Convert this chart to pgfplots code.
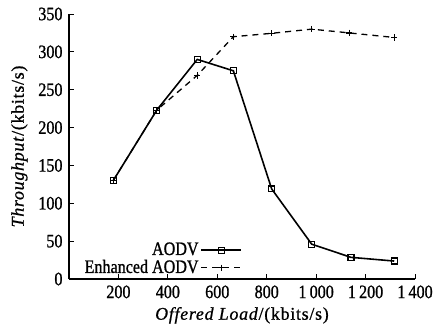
\documentclass[border=0pt]{standalone}
\usepackage{pgfplots}
\pgfplotsset{compat=1.18}
\usepackage{fontspec}
\setmainfont[FakeStretch=0.85, FakeBold=1]{Liberation Serif}
\newfontfamily\labelfont[LetterSpace=4, FakeBold=0.8]{Liberation Serif}
\begin{document}
\fontsize{19}{22}\selectfont
\begin{tikzpicture}
\begin{axis}[
  scale only axis,
  width=346bp, height=265bp,
  xmin=0, xmax=1400, ymin=0, ymax=350,
  axis lines=left,
  axis line style={line width=1.2pt, -},
  xtick={200,400,...,1400},
  ytick={0,50,...,350},
  tick align=inside,
  major tick length=5pt,
  tick style={line width=1pt, black},
  /pgf/number format/assume math mode=true,
  /pgf/number format/1000 sep={\,},
  ticklabel style={font=\fontsize{19}{22}\selectfont},
  xlabel={\textit{Offered Load}/(kbits/s)},
  ylabel={\textit{Throughput}/(kbits/s)},
  label style={font=\fontsize{18}{22}\labelfont},
  xlabel style={yshift=4pt},
  ylabel style={yshift=-2pt},
  legend style={at={(0.503,0.15)}, anchor=north east, draw=none, fill=none,
    font=\fontsize{19}{22}\selectfont, row sep=-2pt, inner sep=1pt},
  legend plot pos=right,
  legend cell align=right,
  legend image code/.code={\draw[mark repeat=2,mark phase=2,#1] plot coordinates {(0cm,0cm)(0.7cm,0cm)(1.4cm,0cm)};},
]
\addplot[black, line width=1.6pt, mark=square, mark size=3pt, mark options={solid, line width=1.2pt}]
coordinates {(179,130) (355,223) (519,290) (665,275) (820,119) (982,46) (1141,28.6) (1316,23.7)};
\addlegendentry{AODV}
\addplot[black, line width=1.3pt, dashed, dash pattern=on 6pt off 5pt, mark=+, mark size=3.2pt, mark options={solid, line width=1.2pt}]
coordinates {(179,130) (355,223) (519,269) (665,320) (820,324.5) (982,330) (1134,325) (1316,319)};
\addlegendentry{Enhanced AODV}
\coordinate (ll) at (rel axis cs:0,0);
\coordinate (ur) at (rel axis cs:1,1);
\end{axis}
\pgfresetboundingbox
\useasboundingbox ([shift={(-69bp,-54bp)}]ll) rectangle ([shift={(25bp,14bp)}]ur);
\end{tikzpicture}
\end{document}
